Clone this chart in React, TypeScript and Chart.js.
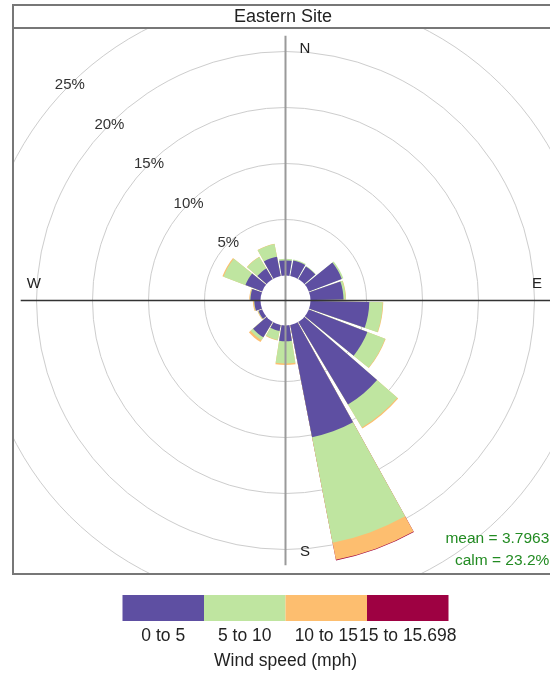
import React, { useEffect, useRef } from 'react';
import { Chart, registerables } from 'chart.js';

Chart.register(...registerables);

// ---------------- data ----------------
const PANEL_TITLE = 'Eastern Site';
const DIRECTIONS = [0, 20, 40, 60, 80, 100, 120, 140, 160, 180, 200, 220, 240, 260, 280, 300, 320, 340];
const SPEED_BANDS = ['0 to 5', '5 to 10', '10 to 15', '15 to 15.698'];
const BAND_COLORS = ['#5E4FA2', '#BFE5A0', '#FDBE6F', '#9E0142'];
// frequency (%) per direction for each wind-speed band
const FREQ_0_5 = [1.35, 1.4, 1.3, 3.15, 2.95, 5.25, 5.6, 8.6, 10.2, 1.4, 0.55, 1.6, 0.35, 0.55, 0.9, 1.6, 1.1, 1.75];
const FREQ_5_10 = [0.15, 0.1, 0.05, 0.15, 0.2, 1.2, 1.7, 2.4, 9.6, 2.0, 0.8, 0.3, 0.05, 0.05, 0.05, 2.1, 1.2, 1.15];
const FREQ_10_15 = [0, 0, 0, 0, 0.03, 0.05, 0.05, 0.1, 1.55, 0.12, 0.05, 0.2, 0.05, 0.08, 0.06, 0.1, 0.03, 0.02];
const FREQ_15_MAX = [0, 0, 0, 0, 0, 0, 0, 0, 0.06, 0, 0, 0, 0, 0, 0, 0, 0, 0];
const GRID_PCT = [5, 10, 15, 20, 25];
const GRID_LABELS = ['5%', '10%', '15%', '20%', '25%'];
const COMPASS = ['N', 'E', 'S', 'W'];
const MEAN_TEXT = 'mean = 3.7963';
const CALM_TEXT = 'calm = 23.2%';
const LEGEND_TITLE = 'Wind speed (mph)';

// ---------------- layout ----------------
const W = 550;
const H = 676;
const CX = 285.5;
const CY = 300.5;
const PX_PER_PCT = 11.2;
const HOLE_PX = 25;
const SECTOR_DEG = 20;
const SEG = 0.9;
const PANEL_L = 13;
const PANEL_T = 5;
const PANEL_R = 553;
const STRIP_B = 28;
const PANEL_B = 574;
const FONT = "'Liberation Sans', Arial, Helvetica, sans-serif";

const BANDS = [FREQ_0_5, FREQ_5_10, FREQ_10_15, FREQ_15_MAX];
const R_MIN = -HOLE_PX / PX_PER_PCT;

const windrosePlugin = {
  id: 'windrosePanel',
  beforeDraw(chart: any) {
    const ctx = chart.ctx;
    ctx.save();
    ctx.fillStyle = '#ffffff';
    ctx.fillRect(0, 0, chart.width, chart.height);
    ctx.beginPath();
    ctx.rect(PANEL_L, STRIP_B, PANEL_R - PANEL_L, PANEL_B - STRIP_B);
    ctx.clip();
  },
  beforeDatasetsDraw(chart: any) {
    chart.ctx.restore();
  },
  afterDatasetsDraw(chart: any) {
    const ctx = chart.ctx;
    const r = chart.scales.r;
    const cx = r.xCenter;
    const cy = r.yCenter;
    const dist = (v: number) => r.getDistanceFromCenterForValue(v);
    const totals = DIRECTIONS.map((_, i) => BANDS.reduce((s, a) => s + a[i], 0));
    const L = dist(Math.max(...totals));

    ctx.save();
    // calm hole
    ctx.fillStyle = '#ffffff';
    ctx.beginPath();
    ctx.arc(cx, cy, dist(0), 0, Math.PI * 2);
    ctx.fill();

    // axes
    ctx.lineWidth = 2;
    ctx.strokeStyle = '#9a9a9a';
    ctx.beginPath();
    ctx.moveTo(cx, cy - L);
    ctx.lineTo(cx, cy + L);
    ctx.stroke();
    ctx.lineWidth = 1.5;
    ctx.strokeStyle = '#333333';
    ctx.beginPath();
    ctx.moveTo(cx - L, cy);
    ctx.lineTo(cx + L, cy);
    ctx.stroke();

    // panel + strip
    ctx.lineWidth = 2;
    ctx.strokeStyle = '#777777';
    ctx.strokeRect(PANEL_L, PANEL_T, PANEL_R - PANEL_L, PANEL_B - PANEL_T);
    ctx.beginPath();
    ctx.moveTo(PANEL_L, STRIP_B);
    ctx.lineTo(PANEL_R, STRIP_B);
    ctx.stroke();
    ctx.fillStyle = '#222222';
    ctx.font = `18px ${FONT}`;
    ctx.textAlign = 'center';
    ctx.textBaseline = 'middle';
    ctx.fillText(PANEL_TITLE, (PANEL_L + PANEL_R) / 2, (PANEL_T + STRIP_B) / 2 + 0.5);

    // compass labels
    const c = 0.95 * L;
    ctx.font = `15px ${FONT}`;
    ctx.fillStyle = '#222222';
    const compassPos = [
      [cx + 19.5, cy - c],
      [cx + c, cy - 17],
      [cx + 19.5, cy + c],
      [cx - c, cy - 17],
    ];
    COMPASS.forEach((t, i) => ctx.fillText(t, compassPos[i][0], compassPos[i][1]));

    // percentage labels along NW diagonal
    ctx.font = `15px ${FONT}`;
    ctx.fillStyle = '#333333';
    GRID_PCT.forEach((v, i) => {
      const d = dist(v) * Math.SQRT1_2;
      ctx.fillText(GRID_LABELS[i], cx - d, cy - d);
    });

    // mean / calm
    ctx.font = `15.5px ${FONT}`;
    ctx.fillStyle = '#228B22';
    ctx.textAlign = 'right';
    ctx.textBaseline = 'alphabetic';
    ctx.fillText(MEAN_TEXT, cx + L - 1, cy + L - 22);
    ctx.fillText(CALM_TEXT, cx + L - 1, cy + L);

    // legend colour bar
    const segW = 81.5;
    const barX = cx - (segW * SPEED_BANDS.length) / 2;
    const barY = 595;
    const barH = 26;
    BAND_COLORS.forEach((col, i) => {
      ctx.fillStyle = col;
      ctx.fillRect(barX + i * segW, barY, segW, barH);
    });
    ctx.font = `17.5px ${FONT}`;
    ctx.fillStyle = '#222222';
    ctx.textAlign = 'center';
    ctx.textBaseline = 'middle';
    SPEED_BANDS.forEach((t, i) => ctx.fillText(t, barX + (i + 0.5) * segW, 636.5));
    ctx.fillText(LEGEND_TITLE, cx, 661);
    ctx.restore();
  },
};

export default function App() {
  const ref = useRef<HTMLCanvasElement | null>(null);

  useEffect(() => {
    if (!ref.current) return;
    // stacked (cumulative) layers; a layer whose own band is empty in a direction is left out there
    const cumulative = BANDS.map((band, b) =>
      DIRECTIONS.map((_, i) =>
        band[i] > 0 ? BANDS.slice(0, b + 1).reduce((s, arr) => s + arr[i], 0) : 0
      )
    );
    const labels = DIRECTIONS.flatMap((d) => [`${d}°`, '']);
    const datasets = cumulative.map((vals, b) => ({
      label: SPEED_BANDS[b],
      data: vals.flatMap((v) => [v, 0]),
      backgroundColor: (ctx: any) => (ctx.dataIndex % 2 === 0 ? BAND_COLORS[b] : 'rgba(0,0,0,0)'),
      borderWidth: 0,
      angle: (ctx: any) => (ctx.dataIndex % 2 === 0 ? SECTOR_DEG * SEG : SECTOR_DEG * (1 - SEG)),
    }));

    const chart = new Chart(ref.current, {
      type: 'polarArea',
      data: { labels, datasets },
      options: {
        responsive: false,
        animation: false,
        events: [],
        layout: { padding: { left: PANEL_L, top: STRIP_B, right: 0, bottom: H - PANEL_B } },
        plugins: {
          legend: { display: false },
          tooltip: { enabled: false },
          title: { display: false },
        },
        scales: {
          r: {
            min: R_MIN,
            max: GRID_PCT[GRID_PCT.length - 1],
            bounds: 'data',
            startAngle: -(SECTOR_DEG * SEG) / 2,
            ticks: { display: false, stepSize: 5 },
            grid: { display: true, circular: true, color: '#cdcdcd', lineWidth: 1 },
            angleLines: { display: false },
            pointLabels: { display: false },
            afterBuildTicks: (s: any) => {
              s.ticks = [R_MIN, ...GRID_PCT].map((v) => ({ value: v }));
            },
            afterFit: (s: any) => {
              s.xCenter = CX;
              s.yCenter = CY;
              s.drawingArea = (s.max - s.min) * PX_PER_PCT;
            },
          },
        },
      } as any,
      plugins: [windrosePlugin],
    });
    return () => chart.destroy();
  }, []);

  return (
    <div style={{ position: 'absolute', left: 0, top: 0, width: W, height: H }}>
      <canvas ref={ref} width={W} height={H} style={{ display: 'block', width: W, height: H }} />
    </div>
  );
}
